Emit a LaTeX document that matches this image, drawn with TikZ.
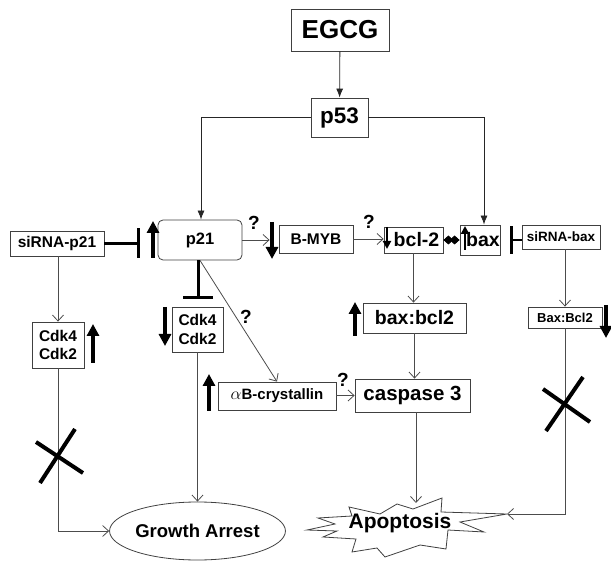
\documentclass[tikz,border=0pt]{standalone}
\usepackage{fontspec}
\setmainfont{Liberation Sans}
\usetikzlibrary{arrows.meta,shapes.geometric,calc}
\newcommand\myfs[1]{\fontsize{#1}{#1}\selectfont\bfseries}
\tikzset{
  box/.style={draw=black!75, line width=0.8pt, fill=white, inner sep=0pt, align=center},
  conn/.style={draw=black!70, line width=0.8pt, -{Straight Barb[length=6pt,width=11pt]}},
  pconn/.style={draw=black!85, line width=0.8pt, -{Latex[length=9pt,width=7pt]}},
  bigarr/.style={line width=4.5pt, -{Triangle[width=12pt,length=12pt]}},
  smallarr/.style={line width=2.2pt, -{Triangle[width=8pt,length=8pt]}},
  inhib/.style={line width=3pt, -{Bar[width=30pt]}},
  xmark/.style={line width=4pt},
  qmark/.style={font=\myfs{19}, inner sep=0pt}
}
\begin{document}
\begin{tikzpicture}[x=1pt,y=-1pt]
\useasboundingbox (0,0) rectangle (611,561);
% nodes
\node[box, minimum width=98pt, minimum height=42pt, font=\myfs{26}] (egcg) at (340,30) {EGCG};
\node[box, minimum width=57pt, minimum height=39pt, font=\myfs{22.5}] (p53) at (339.5,117.5) {p53};
\node[box, rounded corners=5pt, minimum width=84pt, minimum height=40pt, font=\myfs{16.5}] (p21) at (200,240) {p21};
\node[box, minimum width=94pt, minimum height=25pt, font=\myfs{15.5}] (sip21) at (57,243.5) {siRNA-p21};
\node[box, minimum width=74pt, minimum height=28pt, font=\myfs{15.5}] (bmyb) at (316,239) {B-MYB};
\node[box, minimum width=59pt, minimum height=26pt, font=\myfs{19.5}] (bcl2) at (413.5,240) {\hspace*{6pt}bcl-2};
\node[box, minimum width=40pt, minimum height=30pt, font=\myfs{19.5}] (bax) at (480,240) {\hspace*{6pt}bax};
\node[box, minimum width=78pt, minimum height=24pt, font=\myfs{13.5}] (sibax) at (561,237) {siRNA-bax};
\node[box, minimum width=103pt, minimum height=30pt, font=\myfs{19.5}] (bb) at (414.5,318) {bax:bcl2};
\node[box, minimum width=74pt, minimum height=21pt, font=\myfs{13}] (BB) at (565,317.5) {Bax:Bcl2};
\node[box, minimum width=115pt, minimum height=33pt, font=\myfs{20.5}] (casp) at (412.5,395.5) {caspase 3};
\node[box, minimum width=118pt, minimum height=28pt, font=\myfs{15}] (abc) at (277,396) {{\fontsize{16}{16}\selectfont$\alpha$}B-crystallin};
\node[box, minimum width=51pt, minimum height=45pt, font=\fontsize{15.5}{18.5}\selectfont\bfseries] (cdkM) at (197.5,329.5) {Cdk4\\Cdk2};
\node[box, minimum width=52pt, minimum height=46pt, font=\fontsize{15.5}{18.5}\selectfont\bfseries] (cdkL) at (58,345) {Cdk4\\Cdk2};
\node[draw=black!75, line width=0.8pt, ellipse, inner sep=0pt, minimum width=139pt, minimum height=58pt, font=\myfs{18.5}] (growth) at (197.5,531) {Growth Arrest};
% starburst
\draw[draw=black!75, line width=0.8pt, fill=white]
  (307,530) -- (335,524) -- (318,518) -- (352,516) -- (349,507) -- (380,514) -- (397,504)
  -- (413,509) -- (442,498) -- (441,512) -- (507,514) coordinate (aptip) -- (460,522) -- (484,532)
  -- (448,530) -- (446,549) -- (420,545) -- (385,557) -- (377,548) -- (352,552) -- (356,539)
  -- (323,537) -- (337,531) -- cycle;
\node[font=\myfs{21}, inner sep=0pt] (apop) at (400,523) {Apoptosis};
\coordinate (aptop) at (416,503);
% connectors
\draw[pconn] (egcg) -- (p53);
\draw[pconn] (p53.west) -| ([xshift=1pt]p21.north);
\draw[pconn] (p53.east) -| ([xshift=4pt]bax.north);
\draw[conn] (sip21.south -| cdkL) -- (cdkL.north);
\draw[conn] (cdkL.south) |- (growth.west);
\draw[conn, shorten >=9pt] (p21.east) -- (p21.east -| bmyb.west);
\draw[conn] (bmyb.east) -- (bmyb.east -| bcl2.west);
\draw[line width=0.8pt, {Diamond[length=10pt,width=9pt]}-{Diamond[length=10pt,width=9pt]}] (bcl2.east) -- (bcl2.east -| bax.west);
\draw[conn] (bcl2.south) -- (bcl2.south |- bb.north);
\draw[conn] (bb.south) -- (bb.south |- casp.north);
\draw[conn] (abc.east |- casp.west) -- (casp.west);
\draw[conn] (p21.south) -- (abc.north);
\draw[inhib, shorten >=8pt] ([xshift=-2pt]p21.south) -- ([xshift=-2pt]p21.south |- cdkM.north);
\draw[conn] (cdkM.south) -- (cdkM.south |- growth.north);
\draw[conn] ([xshift=3.5pt]casp.south) -- (aptop);
\draw[conn] (sibax.south -| BB) -- (BB.north);
\draw[conn] (BB.south) |- (aptip);
\draw[inhib, shorten >=18pt] (sip21.east) -- (sip21.east -| p21.west);
\draw[line width=2pt, -{Bar[width=28pt,line width=3pt]}, shorten >=10pt] (sibax.west |- bax.east) -- (bax.east);
% indicator arrows
\draw[bigarr] (153,258) -- (153,221);
\draw[bigarr] (272,222) -- (272,259);
\draw[smallarr] (387,227) -- (387,249);
\draw[smallarr] (465,250) -- (465,226);
\draw[bigarr] (93,363) -- (93,324);
\draw[bigarr] (165,307) -- (165,346);
\draw[bigarr] (209,411) -- (209,374);
\draw[bigarr] (355,336) -- (355,302);
\draw[bigarr] (606,305) -- (606,338);
% X marks
\draw[xmark] (36,442) -- (83,473);
\draw[xmark] (40,483) -- (75,429);
\draw[xmark] (543,389) -- (590,422);
\draw[xmark] (546,431) -- (583,377);
% question marks
\node[qmark] (q1) at (254,223) {?};
\node[qmark] (q2) at (369,222) {?};
\node[qmark] (q3) at (246,317) {?};
\node[qmark] (q4) at (343,380) {?};
\end{tikzpicture}
\end{document}
